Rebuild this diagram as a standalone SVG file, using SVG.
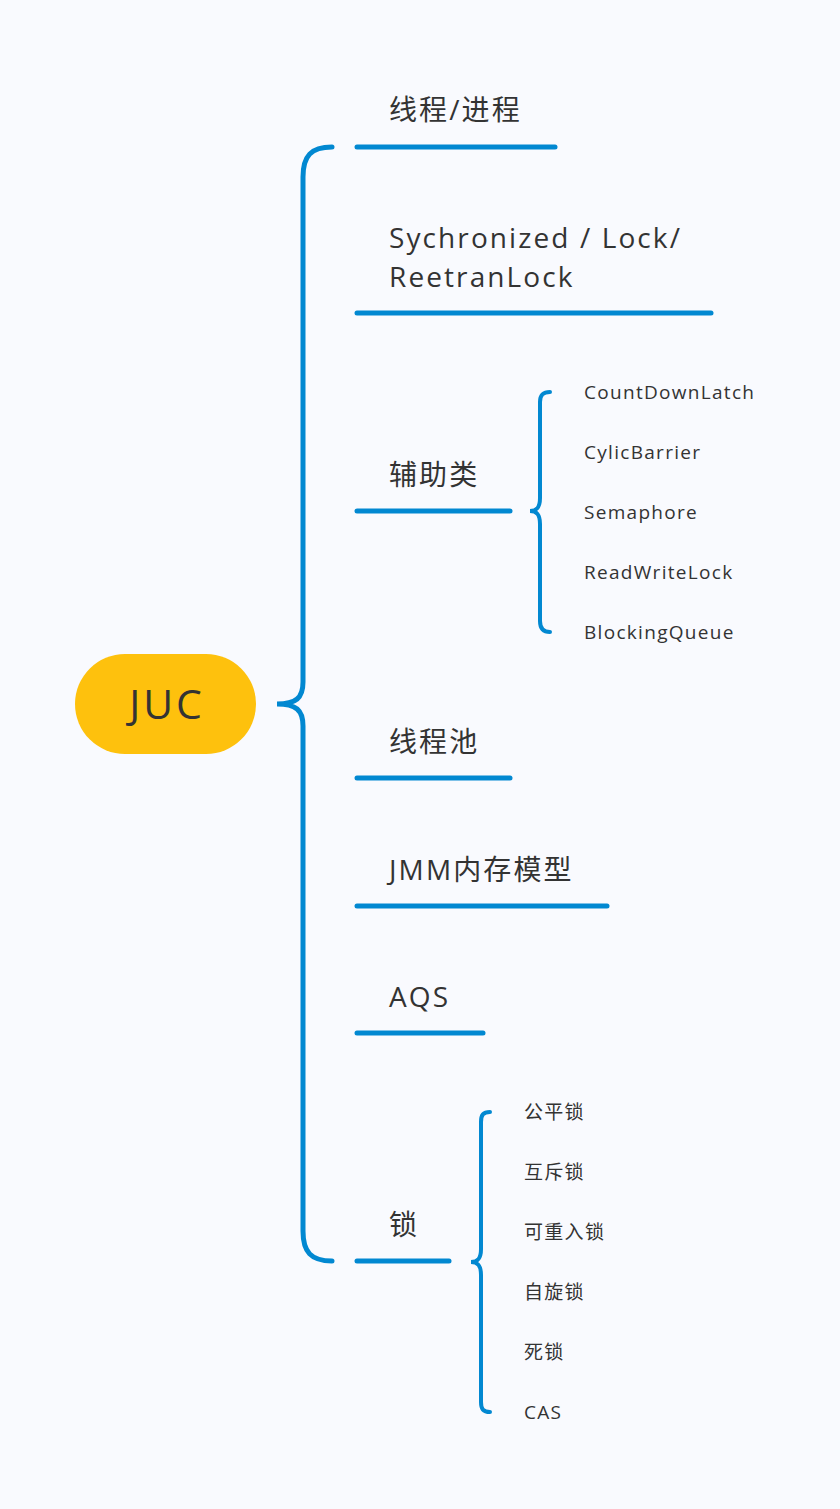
<svg xmlns="http://www.w3.org/2000/svg" width="840" height="1509" viewBox="0 0 840 1509">
<style>
.bg{fill:#F9FAFE}
.t{font-family:"Open Sans","Noto Sans","Noto Sans CJK SC",sans-serif;fill:#333333}
.main{font-size:28px;letter-spacing:2.1px}
.sub{font-size:19px;letter-spacing:1.3px}
.line{stroke:#0288D1;stroke-width:5;stroke-linecap:round;fill:none}
.line2{stroke:#0288D1;stroke-width:4;stroke-linecap:round;fill:none}
</style>
<rect class="bg" x="0" y="0" width="840" height="1509"/>
<g id="connectors">
<path class="line" d="M332,147 C311,147 303,156 303,177 L303,682 C303,698 296,704 277,704 C296,704 303,710 303,726 L303,1231 C303,1252 311,1261 332,1261"/>
<path class="line2" d="M550,392 C543,392 540,395 540,402 L540,498 C540,507 537,511 530,511 C537,511 540,515 540,524 L540,621 C540,628 543,632 550,632"/>
<path class="line2" d="M490,1112 C483,1112 481,1115 481,1122 L481,1249 C481,1258 478,1262 471,1262 C478,1262 481,1266 481,1275 L481,1402 C481,1409 483,1412 490,1412"/>
</g>
<g id="root">
<rect x="75" y="654" width="181" height="100" rx="50" fill="#FEC10D"/>
<text class="t" x="167" y="719" font-size="41" letter-spacing="3" text-anchor="middle">JUC</text>
</g>
<g id="n1"><text class="t main" x="389" y="120">线程/进程</text><line class="line" x1="357" y1="147" x2="555" y2="147"/></g>
<g id="n2"><text class="t main" x="389" y="248">Sychronized / Lock/</text><text class="t main" x="389" y="287">ReetranLock</text><line class="line" x1="357" y1="313" x2="711" y2="313"/></g>
<g id="n3"><text class="t main" x="389" y="485">辅助类</text><line class="line" x1="357" y1="511" x2="510" y2="511"/></g>
<g id="n3a"><text class="t sub" x="584" y="399">CountDownLatch</text></g>
<g id="n3b"><text class="t sub" x="584" y="459">CylicBarrier</text></g>
<g id="n3c"><text class="t sub" x="584" y="519">Semaphore</text></g>
<g id="n3d"><text class="t sub" x="584" y="579">ReadWriteLock</text></g>
<g id="n3e"><text class="t sub" x="584" y="639">BlockingQueue</text></g>
<g id="n4"><text class="t main" x="389" y="752">线程池</text><line class="line" x1="357" y1="778" x2="510" y2="778"/></g>
<g id="n5"><text class="t main" x="389" y="880">JMM内存模型</text><line class="line" x1="357" y1="906" x2="607" y2="906"/></g>
<g id="n6"><text class="t main" x="389" y="1007">AQS</text><line class="line" x1="357" y1="1033" x2="483" y2="1033"/></g>
<g id="n7"><text class="t main" x="389" y="1235">锁</text><line class="line" x1="357" y1="1261" x2="449" y2="1261"/></g>
<g id="n7a"><text class="t sub" x="524" y="1119">公平锁</text></g>
<g id="n7b"><text class="t sub" x="524" y="1179">互斥锁</text></g>
<g id="n7c"><text class="t sub" x="524" y="1239">可重入锁</text></g>
<g id="n7d"><text class="t sub" x="524" y="1299">自旋锁</text></g>
<g id="n7e"><text class="t sub" x="524" y="1359">死锁</text></g>
<g id="n7f"><text class="t sub" x="524" y="1419">CAS</text></g>
</svg>
